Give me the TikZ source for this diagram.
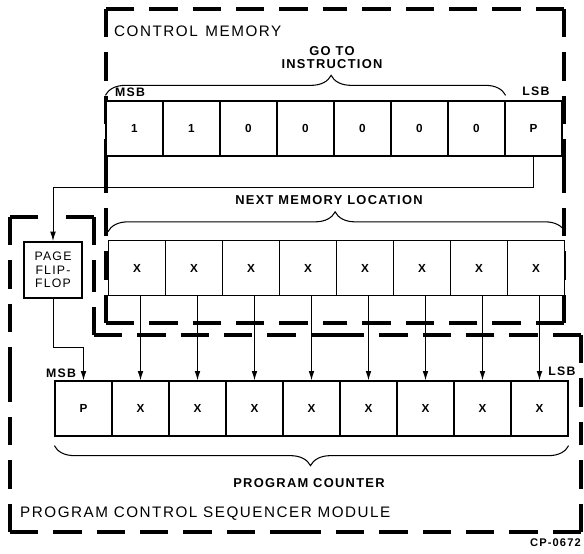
\documentclass[tikz,border=0pt]{standalone}
\usepackage{fontspec}
\setmainfont{Liberation Sans}[LetterSpace=10]
\usepackage{tikz}
\usetikzlibrary{arrows.meta,decorations.pathreplacing,calc}

% one side of a dashed outline, dashed in from both corners
\newcommand{\boundside}[2]{%
    \draw[bound] (#1) -- ($(#1)!0.5!(#2)$);
    \draw[bound] (#2) -- ($(#1)!0.5!(#2)$);}

\begin{document}
\begin{tikzpicture}[
    x=0.3mm, y=-0.3mm,
    cell/.style={rectangle, draw, line width=1.1pt, fill=white, minimum width=17.1mm, minimum height=16.5mm, inner sep=0pt, font=\fontsize{10}{12}\selectfont\bfseries},
    ffbox/.style={rectangle, draw, line width=1.6pt, fill=white, minimum width=17.4mm, minimum height=16.8mm, inner sep=0pt, align=center, font=\fontsize{10.5}{11.5}\selectfont},
    bound/.style={line width=2.8pt, dash pattern=on 8.5mm off 4.5mm},
    wire/.style={line width=0.8pt},
    arrow/.style={wire, -{Latex[length=2.8mm, width=1.7mm]}},
    brc/.style={decorate, line width=0.9pt, decoration={brace, amplitude=6mm}},
    lbl/.style={font=\fontsize{11}{11}\selectfont\bfseries, align=center, inner sep=0pt},
    title/.style={font=\fontsize{13}{15}\selectfont, inner sep=0pt},
    bit/.style={font=\fontsize{10.5}{12}\selectfont\bfseries, inner sep=0pt}
]
    \useasboundingbox (0,0) rectangle (584,554);

    % Control memory outline
    \coordinate (cma) at (106,9);
    \coordinate (cmb) at (564,9);
    \coordinate (cmc) at (564,323);
    \coordinate (cmd) at (106,323);
    \boundside{cma}{cmb}
    \boundside{cmb}{cmc}
    \boundside{cmc}{cmd}
    \boundside{cmd}{cma}

    % Program control sequencer module outline
    \coordinate (pma) at (10,217);
    \coordinate (pmb) at (94,217);
    \coordinate (pmc) at (94,335);
    \coordinate (pmd) at (581,335);
    \coordinate (pme) at (581,532);
    \coordinate (pmf) at (10,532);
    \boundside{pma}{pmb}
    \boundside{pmb}{pmc}
    \boundside{pmc}{pmd}
    \boundside{pmd}{pme}
    \boundside{pme}{pmf}
    \boundside{pmf}{pma}

    % Go to instruction word
    \foreach \b [count=\i] in {1,1,0,0,0,0,0,P}
        \node[cell] (m\i) at ({106+57*(\i-0.5)},128.5) {\b};

    % Next memory location
    \foreach \i in {1,...,8}
        \node[cell] (n\i) at ({108.5+57*(\i-0.5)},268) {X};

    % Program counter
    \foreach \b [count=\i from 0] in {P,X,X,X,X,X,X,X,X}
        \node[cell] (pc\i) at ({55+57*(\i+0.5)},408.5) {\b};

    % Page flip-flop
    \node[ffbox] (ff) at (53,270) {PAGE\\FLIP-\\FLOP};

    % Wires
    \draw[arrow] (m8.south) -- ++(0,31) -| (ff.north);
    \draw[arrow] (ff.south) -- ++(0,49) -| (pc0.north);
    \foreach \i in {1,...,8}
        \draw[arrow] (pc\i.north |- n\i.south) -- (pc\i.north);

    % Braces
    \draw[brc, decoration={aspect=0.564}] ([yshift=1.5mm]m1.north west) -- ([yshift=1.5mm]m7.north east);
    \draw[brc, decoration={aspect=0.497}] ([yshift=2.4mm]n1.north west) -- ([yshift=2.4mm]n8.north east);
    \draw[brc, decoration={aspect=0.502}] ([yshift=-2.7mm]pc8.south east) -- ([yshift=-2.7mm]pc0.south west);

    % Labels
    \node[title, anchor=west] (cmname) at (114,31) {CONTROL\hspace{0.5em}MEMORY};
    \node[lbl] (goto) at (332,58) {GO TO\\INSTRUCTION};
    \node[bit] (msbtop) at (130,92) {MSB};
    \node[bit] (lsbtop) at (536,91) {LSB};
    \node[lbl] (nml) at (329,200) {NEXT MEMORY LOCATION};
    \node[bit] (msbpc) at (61,373) {MSB};
    \node[bit] (lsbpc) at (562,371) {LSB};
    \node[lbl] (pcname) at (309,483) {PROGRAM COUNTER};
    \node[title, anchor=west] (pcsname) at (20,514) {PROGRAM CONTROL SEQUENCER MODULE};
    \node[bit, font=\fontsize{9.5}{11}\selectfont\bfseries, anchor=east] (cpnum) at (581,543) {CP-0672};

\end{tikzpicture}
\end{document}
